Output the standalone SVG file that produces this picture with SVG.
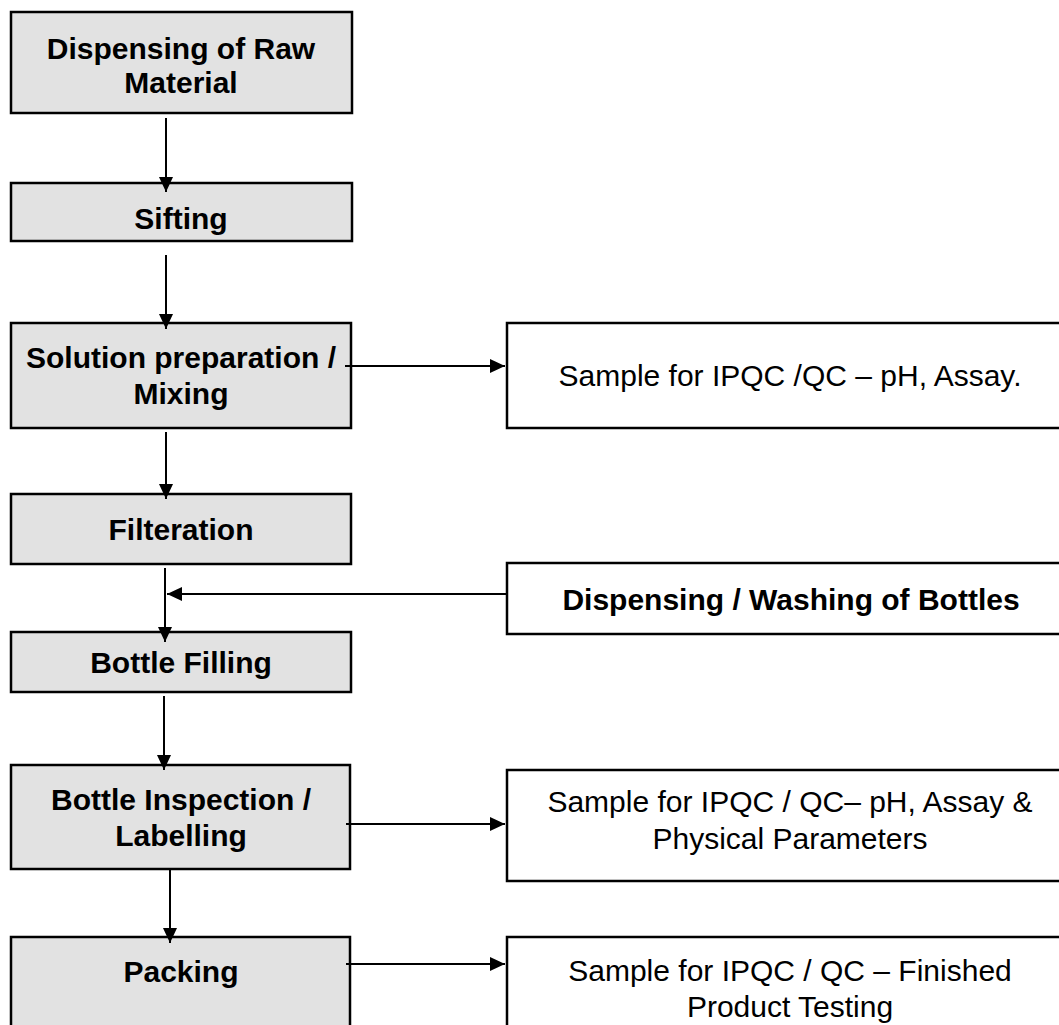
<svg xmlns="http://www.w3.org/2000/svg" width="1059" height="1025" viewBox="0 0 1059 1025">
<defs>
<style>
.step{fill:#e2e2e2;stroke:#000;stroke-width:2.5}
.side{fill:#fff;stroke:#000;stroke-width:2.5}
.b{font-family:"Liberation Sans",Arial,sans-serif;font-weight:bold;font-size:30px;fill:#000;text-anchor:middle}
.r{font-family:"Liberation Sans",Arial,sans-serif;font-size:30px;fill:#000;text-anchor:middle}
.c{fill:none;stroke:#000;stroke-width:2}
</style>
<marker id="ah" viewBox="0 0 15 14" refX="15" refY="7" markerWidth="15" markerHeight="14" markerUnits="userSpaceOnUse" orient="auto">
<path d="M0,0 L15,7 L0,14 z" fill="#000"/>
</marker>
</defs>
<rect width="1059" height="1025" fill="#fff"/>
<g id="n1"><rect class="step" x="11" y="12" width="341" height="101"/><text class="b" x="181" y="59">Dispensing of Raw</text><text class="b" x="181" y="93">Material</text></g>
<g id="n2"><rect class="step" x="11" y="183" width="341" height="58"/><text class="b" x="181" y="229">Sifting</text></g>
<g id="n3"><rect class="step" x="11" y="323" width="340" height="105"/><text class="b" x="181" y="368">Solution preparation /</text><text class="b" x="181" y="404">Mixing</text></g>
<g id="n4"><rect class="side" x="507" y="323" width="560" height="105"/><text class="r" x="790" y="386">Sample for IPQC /QC – pH, Assay.</text></g>
<g id="n5"><rect class="step" x="11" y="494" width="340" height="70"/><text class="b" x="181" y="540">Filteration</text></g>
<g id="n6"><rect class="side" x="507" y="563" width="560" height="71"/><text class="b" x="791" y="610">Dispensing / Washing of Bottles</text></g>
<g id="n7"><rect class="step" x="11" y="632" width="340" height="60"/><text class="b" x="181" y="673">Bottle Filling</text></g>
<g id="n8"><rect class="step" x="11" y="765" width="339" height="104"/><text class="b" x="181" y="810">Bottle Inspection /</text><text class="b" x="181" y="846">Labelling</text></g>
<g id="n9"><rect class="side" x="507" y="770" width="560" height="111"/><text class="r" x="790" y="812">Sample for IPQC / QC– pH, Assay &amp;</text><text class="r" x="790" y="849">Physical Parameters</text></g>
<g id="n10"><rect class="step" x="11" y="937" width="339" height="100"/><text class="b" x="181" y="982">Packing</text></g>
<g id="n11"><rect class="side" x="507" y="937" width="560" height="100"/><text class="r" x="790" y="981">Sample for IPQC / QC – Finished</text><text class="r" x="790" y="1017">Product Testing</text></g>
<g id="connectors">
<path class="c" d="M166,118 V192" marker-end="url(#ah)"/>
<path class="c" d="M166,255 V329" marker-end="url(#ah)"/>
<path class="c" d="M345,366 H505" marker-end="url(#ah)"/>
<path class="c" d="M166,432 V499" marker-end="url(#ah)"/>
<path class="c" d="M165,568 V642" marker-end="url(#ah)"/>
<path class="c" d="M507,594 H167" marker-end="url(#ah)"/>
<path class="c" d="M164,696 V770" marker-end="url(#ah)"/>
<path class="c" d="M346,824 H505" marker-end="url(#ah)"/>
<path class="c" d="M170,869 V943" marker-end="url(#ah)"/>
<path class="c" d="M346,964 H505" marker-end="url(#ah)"/>
</g>
</svg>
